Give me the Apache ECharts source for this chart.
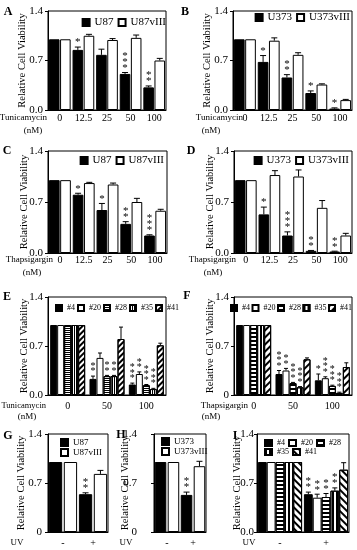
<!DOCTYPE html>
<html><head><meta charset="utf-8">
<script src="https://cdn.jsdelivr.net/npm/echarts@6/dist/echarts.min.js"></script>
<style>
html,body{margin:0;padding:0;background:#fff;width:357px;height:550px;overflow:hidden}
.p{position:absolute;left:0;top:0;width:357px;height:550px}
</style></head><body>
<script>
// ---------------- data ----------------
const doseCats = ['0', '12.5', '25', '50', '100'];
const cloneDoseCats = ['0', '50', '100'];
const uvCats = ['-', '+'];
const yTicks = [0, 0.7, 1.4];

// A: Tunicamycin, U87 / U87vIII
const A_U87 = [1.00, 0.85, 0.78, 0.51, 0.32];
const A_U87_err = [0, 0.04, 0.08, 0.02, 0.02];
const A_U87_sig = [0, 1, 0, 3, 2];
const A_U87vIII = [1.00, 1.05, 0.99, 1.02, 0.70];
const A_U87vIII_err = [0, 0.02, 0.02, 0.04, 0.03];
const A_U87vIII_sig = [0, 0, 0, 0, 0];

// B: Tunicamycin, U373 / U373vIII
const B_U373 = [1.00, 0.68, 0.46, 0.24, 0.02];
const B_U373_err = [0, 0.09, 0.04, 0.03, 0.01];
const B_U373_sig = [0, 1, 2, 1, 1];
const B_U373vIII = [1.00, 0.98, 0.78, 0.36, 0.14];
const B_U373vIII_err = [0, 0.04, 0.03, 0.01, 0.01];
const B_U373vIII_sig = [0, 0, 0, 0, 0];

// C: Thapsigargin, U87 / U87vIII
const C_U87 = [1.00, 0.80, 0.59, 0.40, 0.24];
const C_U87_err = [0, 0.02, 0.09, 0.03, 0.01];
const C_U87_sig = [0, 1, 1, 2, 3];
const C_U87vIII = [1.00, 0.96, 0.94, 0.70, 0.58];
const C_U87vIII_err = [0, 0.01, 0.02, 0.05, 0.02];
const C_U87vIII_sig = [0, 0, 0, 0, 0];

// D: Thapsigargin, U373 / U373vIII
const D_U373 = [1.00, 0.53, 0.24, 0.03, 0.02];
const D_U373_err = [0, 0.10, 0.05, 0.005, 0.005];
const D_U373_sig = [0, 1, 3, 2, 2];
const D_U373vIII = [1.00, 1.07, 1.05, 0.62, 0.24];
const D_U373vIII_err = [0, 0.06, 0.09, 0.10, 0.03];
const D_U373vIII_sig = [0, 0, 0, 0, 0];

// E: Tunicamycin, clones
const E_c4 = [1.00, 0.23, 0.15];   const E_c4_err = [0, 0.04, 0.02];  const E_c4_sig = [0, 2, 3];
const E_c20 = [1.00, 0.53, 0.30];  const E_c20_err = [0, 0.07, 0.03]; const E_c20_sig = [0, 0, 2];
const E_c28 = [1.00, 0.27, 0.14];  const E_c28_err = [0, 0.01, 0.01]; const E_c28_sig = [0, 2, 3];
const E_c35 = [1.00, 0.27, 0.085]; const E_c35_err = [0, 0.01, 0.01]; const E_c35_sig = [0, 2, 3];
const E_c41 = [1.00, 0.80, 0.71];  const E_c41_err = [0, 0.17, 0.03]; const E_c41_sig = [0, 0, 0];

// F: Thapsigargin, clones
const F_c4 = [1.00, 0.30, 0.21];   const F_c4_err = [0, 0.05, 0.09];  const F_c4_sig = [0, 3, 1];
const F_c20 = [1.00, 0.35, 0.24];  const F_c20_err = [0, 0.03, 0.02]; const F_c20_sig = [0, 2, 3];
const F_c28 = [1.00, 0.17, 0.13];  const F_c28_err = [0, 0.01, 0.01]; const F_c28_sig = [0, 3, 3];
const F_c35 = [1.00, 0.11, 0.03];  const F_c35_err = [0, 0.01, 0.01]; const F_c35_sig = [0, 3, 3];
const F_c41 = [1.00, 0.51, 0.40];  const F_c41_err = [0, 0.02, 0.06]; const F_c41_sig = [0, 0, 0];

// G: UV, U87 / U87vIII
const G_U87 = [1.00, 0.54];     const G_U87_err = [0, 0.02];     const G_U87_sig = [0, 2];
const G_U87vIII = [1.00, 0.83]; const G_U87vIII_err = [0, 0.05]; const G_U87vIII_sig = [0, 0];

// H: UV, U373 / U373vIII
const H_U373 = [1.00, 0.53];     const H_U373_err = [0, 0.04];     const H_U373_sig = [0, 2];
const H_U373vIII = [1.00, 0.94]; const H_U373vIII_err = [0, 0.07]; const H_U373vIII_sig = [0, 0];

// I: UV, clones
const I_c4 = [1.00, 0.54];  const I_c4_err = [0, 0.03];  const I_c4_sig = [0, 2];
const I_c20 = [1.00, 0.49]; const I_c20_err = [0, 0.05]; const I_c20_sig = [0, 2];
const I_c28 = [1.00, 0.50]; const I_c28_err = [0, 0.05]; const I_c28_sig = [0, 2];
const I_c35 = [1.00, 0.59]; const I_c35_err = [0, 0.04]; const I_c35_sig = [0, 2];
const I_c41 = [1.00, 0.89]; const I_c41_err = [0, 0.10]; const I_c41_sig = [0, 0];

// ---------------- styles ----------------
const FONT = '"Liberation Serif", "Times New Roman", serif';
const BLACK = {color: '#000', borderColor: '#000', borderWidth: 1};
const WHITE = {color: '#fff', borderColor: '#000', borderWidth: 1};
function hStripe(w, g) {
  return {color: '#fff', borderColor: '#000', borderWidth: 1,
    decal: {symbol: 'rect', symbolSize: 1, color: '#000', dashArrayX: [1, 0], dashArrayY: [w, g], rotation: 0}};
}
function vStripe(w, g) {
  return {color: '#fff', borderColor: '#000', borderWidth: 1,
    decal: {symbol: 'rect', symbolSize: 1, color: '#000', dashArrayX: [w, g], dashArrayY: [1, 0], rotation: 0}};
}
function diag(w, g, rot) {
  return {color: '#fff', borderColor: '#000', borderWidth: 1,
    decal: {symbol: 'rect', symbolSize: 1, color: '#000', dashArrayX: [1, 0], dashArrayY: [w, g], rotation: rot}};
}

function ser(name, values, err, sig, style) { return {name, values, err, sig, style}; }

function panel(o) {
  const div = document.createElement('div');
  div.className = 'p';
  document.body.appendChild(div);
  const chart = echarts.init(div, null, {renderer: 'canvas', width: 357, height: 550});
  const n = o.series.length;
  const cg = o.catGap, bg = o.barGap;
  const series = [];
  o.series.forEach(s => series.push({
    type: 'bar', name: s.name, data: s.values,
    barGap: (bg * 100) + '%', barCategoryGap: (cg * 100) + '%',
    itemStyle: s.style, silent: true, animation: false, z: 2
  }));
  o.series.forEach((s, i) => series.push({
    type: 'custom', name: s.name + ' err', silent: true, animation: false, z: 5,
    data: s.values.map((v, k) => [k, v, s.err[k], s.sig[k]]),
    encode: {x: 0, y: 1},
    renderItem: (params, api) => {
      const cat = api.value(0), v = api.value(1), e = api.value(2), k = api.value(3);
      const bw = api.size([1, 0])[0];
      const total = bw * (1 - cg);
      const barW = total / (n + (n - 1) * bg);
      const cx = api.coord([cat, 0])[0] - total / 2 + barW / 2 + i * barW * (1 + bg);
      const yTop = api.coord([cat, v])[1];
      const yErr = api.coord([cat, v + e])[1];
      const ch = [];
      if (e > 0) {
        ch.push({type: 'line', shape: {x1: cx, y1: yTop, x2: cx, y2: yErr}, style: {stroke: '#000', lineWidth: 1}});
        ch.push({type: 'line', shape: {x1: cx - o.cap, y1: yErr, x2: cx + o.cap, y2: yErr}, style: {stroke: '#000', lineWidth: 1}});
      }
      for (let j = 0; j < k; j++) {
        ch.push({type: 'text', x: cx, y: yErr - o.starGap - j * o.starStep,
          style: {text: '*', fontSize: o.starSize, fontFamily: FONT, fill: '#000', align: 'center', verticalAlign: 'middle'}});
      }
      return {type: 'group', children: ch};
    }
  }));
  const legends = o.legends.map(l => Object.assign({
    icon: 'rect', padding: 0, selectedMode: false,
    textStyle: {fontFamily: FONT, color: '#000', fontSize: l.fontSize || 11}
  }, l));
  const graphics = o.texts.map(t => ({
    type: 'text', x: t.x, y: t.y, silent: true,
    style: {text: t.text, fill: '#000', fontFamily: FONT, fontSize: t.size || 10,
      fontWeight: t.bold ? 'bold' : 'normal', align: t.align || 'center', verticalAlign: 'middle'}
  }));
  chart.setOption({
    animation: false,
    grid: Object.assign({show: true, borderColor: '#000', borderWidth: 1, backgroundColor: 'transparent',
      containLabel: false, outerBoundsMode: 'none'}, o.grid),
    xAxis: {
      type: 'category', data: o.cats,
      axisLine: {show: true, lineStyle: {color: '#000', width: 1}},
      axisTick: {show: false},
      axisLabel: {color: '#000', fontFamily: FONT, fontSize: 10, margin: o.xMargin, interval: 0},
      splitLine: {show: false}
    },
    yAxis: {
      type: 'value', min: 0, max: 1.4, interval: 0.7,
      name: 'Relative Cell Viability', nameLocation: 'middle', nameRotate: 90, nameGap: o.nameGap,
      nameMoveOverlap: false,
      nameTextStyle: {color: '#000', fontFamily: FONT, fontSize: 10.5},
      axisLine: {show: true, lineStyle: {color: '#000', width: 1}},
      axisTick: {show: true, length: 3, lineStyle: {color: '#000'}},
      axisLabel: {color: '#000', fontFamily: FONT, fontSize: 11, margin: o.yMargin,
        formatter: v => (o.zeroPlain && v === 0) ? '0' : v.toFixed(1)},
      splitLine: {show: false}
    },
    legend: legends,
    graphic: graphics,
    series
  });
}

// ---------------- panels ----------------
panel({
  grid: {left: 48, top: 11, width: 118, height: 99},
  cats: doseCats, catGap: 0.08, barGap: 0.05, xMargin: 3, yMargin: 5, nameGap: 20,
  cap: 3, starGap: 4.5, starStep: 6, starSize: 11,
  series: [ser('U87', A_U87, A_U87_err, A_U87_sig, BLACK), ser('U87vIII', A_U87vIII, A_U87vIII_err, A_U87vIII_sig, WHITE)],
  legends: [{data: ['U87', 'U87vIII'], right: 191, top: 17, itemWidth: 7, itemHeight: 7, itemGap: 4, fontSize: 11}],
  texts: [{text: 'A', x: 8, y: 12, size: 12, bold: true},
          {text: 'Tunicamycin', x: 47, y: 118, align: 'right', size: 9},
          {text: '(nM)', x: 33, y: 131, size: 9}]
});
panel({
  grid: {left: 233, top: 11, width: 119, height: 99},
  cats: doseCats, catGap: 0.08, barGap: 0.05, xMargin: 3, yMargin: 5, nameGap: 20,
  cap: 3, starGap: 4.5, starStep: 6, starSize: 11,
  series: [ser('U373', B_U373, B_U373_err, B_U373_sig, BLACK), ser('U373vIII', B_U373vIII, B_U373vIII_err, B_U373vIII_sig, WHITE)],
  legends: [{data: ['U373', 'U373vIII'], right: 7, top: 12, itemWidth: 7, itemHeight: 7, itemGap: 4, fontSize: 11}],
  texts: [{text: 'B', x: 185, y: 12, size: 12, bold: true},
          {text: 'Tunicamycin', x: 243, y: 118, align: 'right', size: 9},
          {text: '(nM)', x: 211, y: 131, size: 9}]
});
panel({
  grid: {left: 48, top: 151, width: 119, height: 102},
  cats: doseCats, catGap: 0.08, barGap: 0.05, xMargin: 2, yMargin: 5, nameGap: 18,
  cap: 3, starGap: 4.5, starStep: 6, starSize: 11,
  series: [ser('U87', C_U87, C_U87_err, C_U87_sig, BLACK), ser('U87vIII', C_U87vIII, C_U87vIII_err, C_U87vIII_sig, WHITE)],
  legends: [{data: ['U87', 'U87vIII'], right: 193, top: 155, itemWidth: 7, itemHeight: 7, itemGap: 4, fontSize: 11}],
  texts: [{text: 'C', x: 7, y: 151, size: 12, bold: true},
          {text: 'Thapsigargin', x: 53, y: 260, align: 'right', size: 9},
          {text: '(nM)', x: 32, y: 273, size: 9}]
});
panel({
  grid: {left: 234, top: 151, width: 118, height: 102},
  cats: doseCats, catGap: 0.08, barGap: 0.05, xMargin: 2, yMargin: 5, nameGap: 18,
  cap: 3, starGap: 4.5, starStep: 6, starSize: 11,
  series: [ser('U373', D_U373, D_U373_err, D_U373_sig, BLACK), ser('U373vIII', D_U373vIII, D_U373vIII_err, D_U373vIII_sig, WHITE)],
  legends: [{data: ['U373', 'U373vIII'], right: 8, top: 155, itemWidth: 7, itemHeight: 7, itemGap: 4, fontSize: 11}],
  texts: [{text: 'D', x: 191, y: 151, size: 12, bold: true},
          {text: 'Thapsigargin', x: 236, y: 260, align: 'right', size: 9},
          {text: '(nM)', x: 213, y: 273, size: 9}]
});
panel({
  grid: {left: 48, top: 297, width: 118, height: 98},
  cats: cloneDoseCats, catGap: 0.11, barGap: 0, xMargin: 6, yMargin: 5, nameGap: 18,
  cap: 2, starGap: 4.5, starStep: 5.5, starSize: 10,
  series: [ser('#4', E_c4, E_c4_err, E_c4_sig, BLACK), ser('#20', E_c20, E_c20_err, E_c20_sig, WHITE),
           ser('#28', E_c28, E_c28_err, E_c28_sig, hStripe(1, 1)), ser('#35', E_c35, E_c35_err, E_c35_sig, vStripe(1, 1)),
           ser('#41', E_c41, E_c41_err, E_c41_sig, diag(1.2, 2, -Math.PI / 4))],
  legends: [{data: ['#4', '#20', '#28', '#35', '#41'], left: 55, top: 304, itemWidth: 6, itemHeight: 6, itemGap: 2, fontSize: 8}],
  texts: [{text: 'E', x: 7, y: 297, size: 12, bold: true},
          {text: 'Tunicamycin', x: 46, y: 406, align: 'right', size: 8.5},
          {text: '(nM)', x: 27, y: 417, size: 9}]
});
panel({
  grid: {left: 234, top: 297, width: 118, height: 98},
  cats: cloneDoseCats, catGap: 0.11, barGap: 0, xMargin: 6, yMargin: 5, nameGap: 18, zeroPlain: true,
  cap: 2, starGap: 4.5, starStep: 5.5, starSize: 10,
  series: [ser('#4', F_c4, F_c4_err, F_c4_sig, BLACK), ser('#20', F_c20, F_c20_err, F_c20_sig, WHITE),
           ser('#28', F_c28, F_c28_err, F_c28_sig, hStripe(1.5, 1.5)), ser('#35', F_c35, F_c35_err, F_c35_sig, vStripe(1.5, 1.5)),
           ser('#41', F_c41, F_c41_err, F_c41_sig, diag(1.5, 2.2, -Math.PI / 4))],
  legends: [{data: ['#4', '#20', '#28', '#35', '#41'], right: 5, top: 304, itemWidth: 6, itemHeight: 6, itemGap: 1.5, fontSize: 8}],
  texts: [{text: 'F', x: 187, y: 296, size: 12, bold: true},
          {text: 'Thapsigargin', x: 248, y: 406, align: 'right', size: 9},
          {text: '(nM)', x: 211, y: 417, size: 9}]
});
panel({
  grid: {left: 48, top: 434, width: 60, height: 98},
  cats: uvCats, catGap: 0.06, barGap: 0.12, xMargin: 6, yMargin: 6, nameGap: 21, zeroPlain: true,
  cap: 3, starGap: 4.5, starStep: 6, starSize: 11,
  series: [ser('U87', G_U87, G_U87_err, G_U87_sig, BLACK), ser('U87vIII', G_U87vIII, G_U87vIII_err, G_U87vIII_sig, WHITE)],
  legends: [{data: ['U87', 'U87vIII'], left: 60, top: 438, orient: 'vertical', itemWidth: 7, itemHeight: 7, itemGap: 1, fontSize: 9}],
  texts: [{text: 'G', x: 8, y: 436, size: 12, bold: true},
          {text: 'UV', x: 17, y: 543, size: 9}]
});
panel({
  grid: {left: 154, top: 434, width: 52, height: 98},
  cats: uvCats, catGap: 0.06, barGap: 0.12, xMargin: 6, yMargin: 17, nameGap: 23, zeroPlain: true,
  cap: 3, starGap: 4.5, starStep: 6, starSize: 11,
  series: [ser('U373', H_U373, H_U373_err, H_U373_sig, BLACK), ser('U373vIII', H_U373vIII, H_U373vIII_err, H_U373vIII_sig, WHITE)],
  legends: [{data: ['U373', 'U373vIII'], left: 161, top: 437, orient: 'vertical', itemWidth: 7, itemHeight: 7, itemGap: 1, fontSize: 9}],
  texts: [{text: 'H', x: 121, y: 435, size: 12, bold: true},
          {text: 'UV', x: 126, y: 543, size: 9}]
});
panel({
  grid: {left: 257, top: 434, width: 92, height: 98},
  cats: uvCats, catGap: 0.04, barGap: 0, xMargin: 6, yMargin: 3, nameGap: 14,
  cap: 2.5, starGap: 4.5, starStep: 6, starSize: 11,
  series: [ser('#4', I_c4, I_c4_err, I_c4_sig, BLACK), ser('#20', I_c20, I_c20_err, I_c20_sig, WHITE),
           ser('#28', I_c28, I_c28_err, I_c28_sig, hStripe(1.5, 1.5)), ser('#35', I_c35, I_c35_err, I_c35_sig, vStripe(1.5, 1.5)),
           ser('#41', I_c41, I_c41_err, I_c41_sig, diag(2, 2.5, Math.PI / 4))],
  legends: [{data: ['#4', '#20', '#28'], left: 264, top: 439, itemWidth: 7, itemHeight: 6, itemGap: 3, fontSize: 8, textStyle: {fontFamily: FONT, color: '#000', fontSize: 8, width: 14}},
            {data: ['#35', '#41'], left: 264, top: 448, itemWidth: 7, itemHeight: 6, itemGap: 3, fontSize: 8, textStyle: {fontFamily: FONT, color: '#000', fontSize: 8, width: 14}}],
  texts: [{text: 'I', x: 235, y: 436, size: 12, bold: true},
          {text: 'UV', x: 249, y: 543, size: 9}]
});
</script>
</body></html>
